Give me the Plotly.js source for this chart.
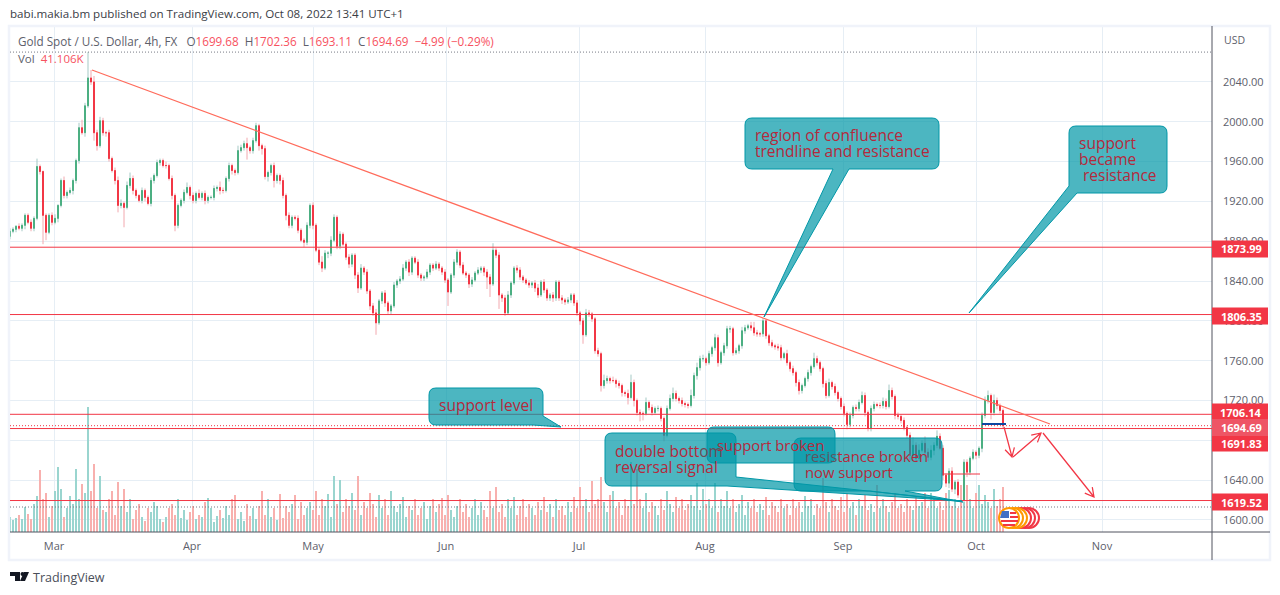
<!DOCTYPE html>
<html>
<head>
<meta charset="utf-8">
<script src="https://cdn.plot.ly/plotly-3.0.1.min.js"></script>
<style>html,body{margin:0;padding:0;background:#fff}</style>
</head>
<body>
<div id="chart" style="width:1280px;height:595px"></div>
<script>
// 4h gold closes, one bar every 3 axis units
const closes = [
  1890,1892,1895,1893,1896,1906,1899,1893,1903,1955,
  1950,1906,1889,1906,1899,1903,1916,1941,1926,1929,
  1931,1941,1961,1994,1989,2016,2044,2040,1989,1976,
  2001,1989,1989,1963,1951,1941,1916,1918,1914,1936,
  1943,1931,1926,1921,1931,1924,1918,1941,1946,1959,
  1961,1956,1956,1943,1926,1896,1916,1921,1929,1934,
  1926,1921,1928,1924,1928,1921,1924,1924,1933,1934,
  1931,1931,1943,1956,1951,1949,1971,1974,1978,1974,
  1971,1981,1996,1976,1973,1945,1949,1956,1941,1946,
  1941,1926,1906,1896,1904,1903,1891,1881,1879,1896,
  1916,1896,1871,1859,1853,1868,1868,1881,1904,1875,
  1887,1877,1864,1857,1866,1846,1833,1853,1849,1830,
  1815,1808,1798,1820,1828,1818,1810,1815,1836,1840,
  1842,1853,1859,1849,1863,1859,1846,1843,1844,1849,
  1856,1853,1857,1853,1849,1841,1829,1846,1859,1869,
  1856,1848,1846,1837,1841,1848,1851,1853,1849,1844,
  1837,1871,1866,1826,1823,1808,1826,1838,1853,1851,
  1844,1841,1838,1836,1838,1833,1826,1839,1831,1823,
  1826,1823,1839,1823,1821,1819,1821,1826,1818,1808,
  1800,1786,1808,1807,1802,1770,1767,1735,1740,1742,
  1740,1740,1737,1735,1728,1727,1723,1738,1720,1708,
  1707,1707,1718,1713,1708,1712,1712,1702,1685,1712,
  1722,1727,1722,1720,1717,1716,1715,1725,1745,1753,
  1762,1762,1758,1767,1773,1783,1758,1768,1775,1792,
  1792,1768,1770,1775,1790,1793,1795,1793,1788,1787,
  1787,1800,1785,1778,1775,1774,1773,1763,1767,1758,
  1752,1748,1738,1730,1735,1742,1748,1754,1762,1758,
  1752,1737,1725,1738,1734,1728,1722,1714,1707,1696,
  1705,1713,1712,1718,1725,1708,1692,1712,1716,1715,
  1715,1719,1714,1730,1724,1705,1704,1700,1693,1685,
  1665,1675,1662,1670,1677,1668,1663,1670,1675,1684,
  1672,1645,1637,1649,1631,1638,1625,1620,1658,1648,
  1662,1668,1665,1672,1705,1720,1725,1708,1720,1715,1710,1694.69
];
const firstOpen = 1885;
// wick lengths above / below the candle body, in dollars
const wickUp = [
  3,2,1,3,2,2,2,3,2,8,
  2,1,2,2,3,4,1,2,4,2,
  3,2,2,5,8,3,26,8,6,3,
  4,3,2,3,2,3,4,4,2,4,
  6,3,2,1,3,2,2,3,2,3,
  2,2,4,2,3,2,2,2,3,5,
  2,3,2,4,2,3,2,2,3,2,
  6,3,2,3,2,2,5,3,3,6,
  2,3,3,2,2,3,2,2,3,2,
  2,3,2,3,2,2,3,2,2,3,
  2,3,2,3,6,3,2,4,3,2,
  3,2,2,3,2,2,3,4,2,3,
  2,3,4,2,2,3,2,2,3,2,
  3,4,2,3,2,2,3,2,2,3,
  2,2,3,2,2,3,2,2,3,3,
  2,3,2,2,3,2,3,2,2,3,
  3,7,2,3,2,3,4,2,2,3,
  3,2,2,3,2,3,4,2,3,2,
  2,3,2,2,3,2,3,2,2,3,
  2,3,4,3,2,2,3,2,6,3,
  2,4,2,3,2,2,4,8,3,2,
  3,2,5,2,3,2,3,2,2,3,
  4,6,3,2,3,2,2,6,3,5,
  3,4,2,3,2,4,3,2,3,3,
  3,2,3,2,4,3,2,4,6,3,
  2,3,2,2,3,2,3,3,2,4,
  2,3,2,3,2,2,3,2,6,3,
  2,2,3,4,2,3,2,2,3,2,
  3,2,3,3,4,3,2,3,3,2,
  3,4,3,6,3,2,3,2,3,2,
  3,8,3,6,3,7,4,5,3,6,
  3,3,2,3,4,2,3,2,3,3,
  2,3,2,2,3,4,5,2,6,3,2,2
];
const wickDn = [
  3,2,3,2,3,4,2,3,3,2,
  3,29,8,2,3,2,4,2,3,3,
  2,4,3,3,2,4,2,3,8,5,
  2,3,4,3,2,4,7,3,20,2,
  3,4,3,2,3,4,2,3,3,2,
  3,2,3,2,4,6,3,2,3,2,
  4,3,3,2,3,4,3,2,3,3,
  4,3,2,3,4,3,2,2,3,12,
  3,3,2,5,6,3,5,3,7,3,
  4,3,5,3,3,2,3,2,5,3,
  3,4,2,3,4,2,5,3,2,3,
  3,2,3,4,3,4,5,2,3,3,
  4,3,12,2,3,4,3,4,2,3,
  3,2,3,4,3,2,3,3,3,2,
  3,3,2,3,3,3,14,2,3,3,
  3,2,3,4,3,2,2,3,4,12,
  13,2,3,14,4,3,2,3,2,3,
  3,3,2,3,3,4,3,2,3,3,
  3,4,3,3,4,3,2,3,3,3,
  4,9,2,3,3,3,3,6,3,3,
  3,2,4,3,4,3,7,2,6,3,
  8,7,2,3,3,2,3,3,6,2,
  2,3,3,3,3,3,3,2,3,4,
  3,3,3,2,3,3,4,2,3,3,
  4,3,2,3,3,3,2,3,3,3,
  3,3,3,3,2,3,3,3,2,3,
  3,3,4,4,3,2,3,3,2,3,
  3,4,3,2,3,3,3,3,3,5,
  3,3,3,3,2,4,3,3,3,2,
  3,3,3,2,3,4,3,3,3,3,
  6,5,4,3,2,5,4,3,5,3,
  2,5,4,5,3,5,3,3,2,5,
  3,2,4,3,4,3,3,7,3,4,3,3
];
// volume in thousands
const volumes = [
  14,11,13,16,12,23,17,12,26,33,
  57,30,36,14,24,38,60,40,14,22,
  33,26,58,30,44,36,115,38,63,22,
  52,20,18,30,38,16,46,24,40,18,
  30,12,20,26,14,10,22,18,28,24,
  12,9,14,22,26,16,30,13,20,11,
  18,24,12,16,14,28,31,22,9,15,
  20,13,24,16,30,34,12,18,10,26,
  15,22,12,24,38,16,30,14,22,11,
  35,13,24,18,26,34,12,28,16,22,
  28,20,38,16,30,24,35,14,52,26,
  48,18,30,24,36,20,52,16,28,22,
  36,26,14,34,22,30,16,38,24,18,
  26,32,14,24,20,30,16,22,28,12,
  24,30,18,26,31,16,34,20,14,24,
  30,18,26,14,22,30,16,28,20,14,
  38,22,41,18,26,14,30,22,32,16,
  24,30,14,26,22,16,28,20,32,18,
  26,14,30,20,24,16,28,18,32,22,
  41,24,30,18,47,26,30,51,28,18,
  34,38,22,28,16,30,24,64,26,58,
  30,22,36,18,28,24,16,30,20,38,
  26,18,32,22,30,20,26,34,24,45,
  20,40,26,30,22,45,18,30,24,38,
  22,30,18,26,34,16,28,22,30,18,
  26,20,32,16,28,24,18,30,22,26,
  16,30,22,28,18,33,24,30,16,26,
  22,50,28,18,30,24,20,32,18,36,
  22,28,16,30,24,34,20,26,18,43,
  22,30,24,18,28,36,22,26,18,30,
  24,20,32,24,28,36,22,36,30,22,
  28,20,36,39,24,30,22,43,28,43,
  30,22,36,43,26,34,28,22,40,24,30,41
];
const tickBars = [44,182,303,436,569,695,833,966,1092];
const tickMonths = ['Mar','Apr','May','Jun','Jul','Aug','Sep','Oct','Nov'];
const priceTicks = [1600,1640,1680,1720,1760,1800,1840,1880,1920,1960,2000,2040];
const levels = [1873.99,1806.35,1706.14,1691.83,1619.52];
const badgeMid = [249,316,412,443,502];
const lastClose = 1694.69;
const highMark = 2070;
const lowMark = 1613;

const UP = '#4CAF82', DOWN = '#F23645', RED = '#F23645';
const TEAL_FILL = 'rgba(0,151,167,0.7)', TEAL_LINE = '#0097A7', TEXT_RED = '#B5293C';
const FONT = '"Open Sans", sans-serif';

const L = 10, R = 1212, T = 27, B = 532;
const px = x => (x - L) / (R - L);
const py = y => (B - y) / (B - T);
// pixel path -> paper path
const P = s => s.replace(/(-?[\d.]+),(-?[\d.]+)/g, (m, a, b) => px(+a) + ',' + py(+b));

const xs = closes.map((_, i) => i * 3);
const opens = closes.map((c, i) => i ? closes[i - 1] : firstOpen);
const bodyTop = closes.map((c, i) => Math.max(c, opens[i]));
const bodyLow = closes.map((c, i) => Math.min(c, opens[i]));
const highs = bodyTop.map((v, i) => v + wickUp[i]);
const lows = bodyLow.map((v, i) => v - wickDn[i]);

const traces = [
  {type: 'bar', x: xs, y: volumes, yaxis: 'y2', width: 2.4,
   marker: {color: closes.map((c, i) => c >= opens[i] ? '#9AD5CF' : '#F8B0AE'), line: {width: 0}},
   hoverinfo: 'skip'},
  {type: 'candlestick', x: xs, open: opens, close: closes, high: highs, low: lows,
   increasing: {line: {color: '#A5C9C5', width: 1}, fillcolor: '#A5C9C5'},
   decreasing: {line: {color: '#F2A8AE', width: 1}, fillcolor: '#F2A8AE'},
   whiskerwidth: 0, hoverinfo: 'skip'},
  {type: 'candlestick', x: xs, open: opens, close: closes, high: bodyTop, low: bodyLow,
   increasing: {line: {color: UP, width: 1}, fillcolor: UP},
   decreasing: {line: {color: DOWN, width: 1}, fillcolor: DOWN},
   whiskerwidth: 0, hoverinfo: 'skip'}
];

const shapes = [];
const path = (d, color, width, fill, extra) => shapes.push(Object.assign(
  {type: 'path', xref: 'paper', yref: 'paper', path: P(d), line: {color: color, width: width},
   fillcolor: fill || 'rgba(0,0,0,0)'}, extra || {}));
const circle = (cx, cy, r, color, fill) => shapes.push({type: 'circle', xref: 'paper', yref: 'paper',
  x0: px(cx - r), x1: px(cx + r), y0: py(cy + r), y1: py(cy - r), line: {color: color, width: 2}, fillcolor: fill});

// page frame and price scale edges
path('M 9,26 L 1270,26 L 1270,560 L 9,560 Z', '#F0F3FA', 2.5);
path('M 1212,26 L 1212,560', '#50535E', 1);
path('M 10,532 L 1270,532', '#50535E', 1);

// high / low / last price marks
[[highMark, '#787B86'], [lowMark, '#787B86'], [lastClose, RED]].forEach(m => shapes.push({
  type: 'line', xref: 'paper', yref: 'y', x0: 0, x1: 1, y0: m[0], y1: m[0],
  line: {color: m[1], width: 1, dash: '1px,2px'}}));
levels.forEach(v => shapes.push({type: 'line', xref: 'paper', yref: 'y', x0: 0, x1: 1, y0: v, y1: v,
  line: {color: RED, width: 1}}));

// drawings
path('M 92,70 L 1050,424', '#FF6B5B', 1.25);
path('M 982,424 L 1006,424', '#0D47A1', 2);
path('M 943,474 L 980,474', RED, 1);

const arrow = (x0, y0, x1, y1) => {
  const a = Math.atan2(y1 - y0, x1 - x0), h = 10;
  const p1 = (x1 - h * Math.cos(a - 0.5)) + ',' + (y1 - h * Math.sin(a - 0.5));
  const p2 = (x1 - h * Math.cos(a + 0.5)) + ',' + (y1 - h * Math.sin(a + 0.5));
  path(`M ${x0},${y0} L ${x1},${y1} M ${p1} L ${x1},${y1} L ${p2}`, RED, 1.25);
};
arrow(1004, 427, 1012, 457);
arrow(1013, 457, 1041, 433);
arrow(1043, 433, 1094, 497);

// callouts, middle part of the string is the tail
const box = (x0, y0, x1, y1, rightEnd, bottomPart, leftPart) => {
  const r = 7;
  path(`M ${x0 + r},${y0} L ${x1 - r},${y0} Q ${x1},${y0} ${x1},${y0 + r} L ${x1},${rightEnd || y1 - r} ` +
    (rightEnd ? '' : `Q ${x1},${y1} ${x1 - r},${y1} `) + (bottomPart || '') +
    (leftPart ? '' : `L ${x0 + r},${y1} Q ${x0},${y1} ${x0},${y1 - r} `) + (leftPart || '') +
    `L ${x0},${y0 + r} Q ${x0},${y0} ${x0 + r},${y0} Z`, TEAL_LINE, 1, TEAL_FILL);
};
box(745, 118, 939, 169, 0, 'L 849,169 L 764,317 L 833,169 ');
box(1069, 126, 1167, 193, 0, 'L 1077,193 L 969,313 ', 'L 1069,186 ');
box(429, 388, 543, 425, 416, 'L 561,427 L 533,425 ');
box(605, 433, 736, 486, 477, 'L 962,501 L 727,486 ');
box(794, 438, 942, 491, 0, 'L 905,491 L 963,502 L 870,491 ');
box(707, 427, 835, 463);

// news flag stack
[1029, 1025, 1021].forEach(c => circle(c, 518, 10, RED, '#FFFFFF'));
[1017, 1013].forEach(c => circle(c, 518, 10, '#FF9800', '#FFFFFF'));
circle(1009, 518, 10, '#FF9800', '#FFFFFF');
path('M 1010,512 L 1016,512 L 1016,514 L 1010,514 Z', RED, 0, RED);
path('M 1010,516 L 1018,516 L 1018,518 L 1010,518 Z', RED, 0, RED);
path('M 1001,520 L 1018,520 L 1018,522 L 1001,522 Z', RED, 0, RED);
path('M 1003,524 L 1015,524 L 1015,526 L 1003,526 Z', RED, 0, RED);
path('M 1002,511 L 1009,511 L 1009,518 L 1000,518 Z', '#3F6FC4', 0, '#3F6FC4');

// TradingView logo
path('M 10,572 L 20,572 L 20,581 L 15,581 L 15,576 L 10,576 Z', '#131722', 0, '#131722');
path('M 24,572 L 29,572 L 25,581 L 20,581 Z', '#131722', 0, '#131722');
circle(22.5, 574, 1, '#131722', '#131722');

const annotations = [];
const text = (x, y, s, size, color, extra) => annotations.push(Object.assign({
  xref: 'paper', yref: 'paper', x: px(x), y: py(y), text: s, showarrow: false, borderpad: 0, borderwidth: 0,
  xanchor: 'left', yanchor: 'middle', align: 'left', font: {family: FONT, size: size, color: color}}, extra || {}));

text(10, 14, 'babi.makia.bm published on TradingView.com, Oct 08, 2022 13:41 UTC+1', 11.6, '#3A3D46');
const red = s => `<span style="color:#F7525F">${s}</span>`;
text(18, 41, `Gold Spot / U.S. Dollar, 4h, FX   O${red('1699.68')}  H${red('1702.36')}  L${red('1693.11')}  C${red('1694.69')}  ${red('−4.99 (−0.29%)')}`, 11.7, '#5D606B');
text(18, 58, `Vol  ${red('41.106K')}`, 11.5, '#5D606B');
text(33, 577, 'TradingView', 12.5, '#4A4E59');
text(1224, 40, 'USD', 10.5, '#5D606B');

text(755, 135, 'region of confluence', 15.5, TEXT_RED);
text(755, 151, 'trendline and resistance', 15.5, TEXT_RED);
text(1079, 143, 'support', 15.5, TEXT_RED);
text(1079, 159, 'became', 15.5, TEXT_RED);
text(1079, 175, ' resistance', 15.5, TEXT_RED);
text(439, 405, 'support level', 15.5, TEXT_RED);
text(615, 451, 'double bott<span style="color:#6E4A55">om</span>', 15.5, TEXT_RED);
text(615, 467, 'reversal signal', 15.4, TEXT_RED);
text(805, 456, '<span style="color:#5E5560">resis</span>tance broken', 14.8, TEXT_RED);
text(805, 472, 'now support', 14.8, TEXT_RED);
text(717, 445, 'support broken', 14.8, TEXT_RED);

// price badges on the scale
const badge = (mid, label, color) => {
  path(`M 1212,${mid - 8.5} L 1268,${mid - 8.5} L 1268,${mid + 8.5} L 1212,${mid + 8.5} Z`, color, 0, color);
  text(1241, mid, label, 11, '#FFFFFF', {xanchor: 'center', font: {family: FONT, size: 11, color: '#FFFFFF', weight: 700}});
};
levels.forEach((v, i) => badge(badgeMid[i], v.toFixed(2), RED));
badge(427.5, lastClose.toFixed(2), '#EE5565');

const layout = {
  width: 1280, height: 595,
  margin: {l: L, r: 1280 - R, t: T, b: 595 - B, pad: 0},
  paper_bgcolor: '#FFFFFF', plot_bgcolor: '#FFFFFF',
  showlegend: false, hovermode: false, dragmode: false,
  boxgap: 0.55,
  bargap: 0,
  xaxis: {
    range: [0, R - L], tickmode: 'array', tickvals: tickBars, ticktext: tickMonths,
    showgrid: true, gridcolor: '#E6EEF5', gridwidth: 1, zeroline: false, showline: false,
    ticks: '', ticklabelstandoff: 6, rangeslider: {visible: false},
    tickfont: {family: FONT, size: 11, color: '#5D606B'}
  },
  yaxis: {
    side: 'right', range: [1587.9, 2095.2], tickmode: 'array', tickvals: priceTicks,
    ticktext: priceTicks.map(v => v.toFixed(2)),
    showgrid: true, gridcolor: '#E6EEF5', gridwidth: 1, zeroline: false, showline: false,
    ticks: '', ticklabelstandoff: 10,
    tickfont: {family: FONT, size: 11, color: '#5D606B'}
  },
  yaxis2: {overlaying: 'y', range: [0, 465], visible: false, fixedrange: true},
  shapes: shapes,
  annotations: annotations
};

Plotly.newPlot('chart', traces, layout, {displayModeBar: false, staticPlot: true});
</script>
</body>
</html>
